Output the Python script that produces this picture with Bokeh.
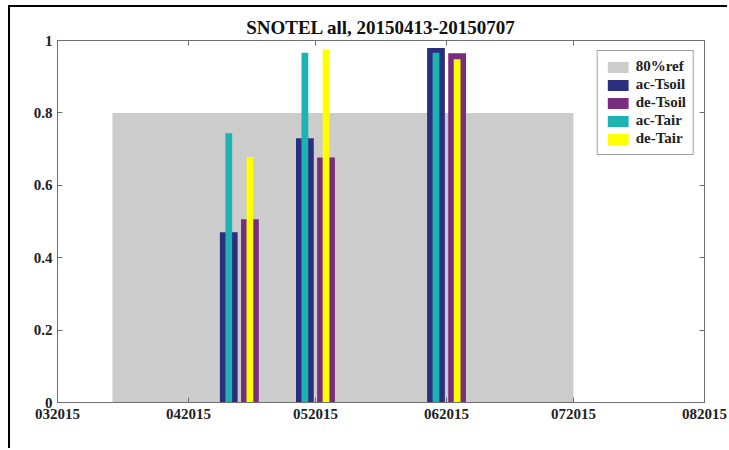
import pandas as pd
from bokeh.plotting import figure
from bokeh.models import (ColumnDataSource, FixedTicker, LinearAxis, Legend, LegendItem, Range1d)
from bokeh.embed import file_html
from bokeh.resources import INLINE

# ---------------- data ----------------
title_text = "SNOTEL all, 20150413-20150707"
dates = ["2015-04-13", "2015-05-01", "2015-06-01"]
ac_tsoil = [0.470, 0.730, 0.979]
de_tsoil = [0.506, 0.677, 0.965]
ac_tair = [0.744, 0.966, 0.966]
de_tair = [0.678, 0.975, 0.948]
ref_level = 0.8
ref_start = "2015-03-14"
ref_end = "2015-07-01"
tick_dates = ["2015-03-01", "2015-04-01", "2015-05-01", "2015-06-01", "2015-07-01", "2015-08-01"]
tick_labels = ["032015", "042015", "052015", "062015", "072015", "082015"]
y_ticks = [0, 0.2, 0.4, 0.6, 0.8, 1]
y_labels = ["0", "0.2", "0.4", "0.6", "0.8", "1"]
series_names = ["80%ref", "ac-Tsoil", "de-Tsoil", "ac-Tair", "de-Tair"]

# ---------------- helpers ----------------
origin = pd.Timestamp(tick_dates[0])
def day(d):
    return float((pd.Timestamp(d) - origin).days)

xd = [day(d) for d in dates]
xt = [day(d) for d in tick_dates]

C_REF = "#cccccc"
C_ACS = "#2c2e7e"
C_DES = "#7a2c7e"
C_ACA = "#1db3b3"
C_DEA = "#ffff00"
FONT = "Liberation Serif"

# page frame: black line on top and left, figure offset inside it
OX, OY = 10, 7
p = figure(width=729 - OX, height=450 - OY, output_backend="svg", toolbar_location=None,
           x_range=Range1d(xt[0], xt[-1]), y_range=Range1d(0, 1),
           min_border_left=57 - OX, min_border_right=25, min_border_top=40 - OY,
           min_border_bottom=48)
p.styles = {"border-top": "2px solid black", "border-left": "2px solid black",
            "margin-left": f"{OX - 2}px", "margin-top": f"{OY - 2}px"}
p.background_fill_color = "white"
p.border_fill_color = "white"
p.outline_line_color = "#6e6e6e"
p.xgrid.visible = False
p.ygrid.visible = False

off = 2.5
w_wide = 4.2
w_narrow = 1.6

r_ref = p.quad(left=[day(ref_start)], right=[day(ref_end)], bottom=[0], top=[ref_level],
               fill_color=C_REF, line_color=None)
src = ColumnDataSource(dict(xl=[x - off for x in xd], xr=[x + off for x in xd],
                            acs=ac_tsoil, des=de_tsoil, aca=ac_tair, dea=de_tair))
r_acs = p.vbar(x="xl", top="acs", width=w_wide, bottom=0, source=src, fill_color=C_ACS, line_color=None)
r_des = p.vbar(x="xr", top="des", width=w_wide, bottom=0, source=src, fill_color=C_DES, line_color=None)
r_aca = p.vbar(x="xl", top="aca", width=w_narrow, bottom=0, source=src, fill_color=C_ACA, line_color=None)
r_dea = p.vbar(x="xr", top="dea", width=w_narrow, bottom=0, source=src, fill_color=C_DEA, line_color=None)

def style_axis(ax, show_labels=True):
    ax.axis_line_color = "#6e6e6e"
    ax.major_tick_line_color = "#6e6e6e"
    ax.major_tick_in = 5
    ax.major_tick_out = 0
    ax.minor_tick_line_color = None
    ax.major_label_text_font = FONT
    ax.major_label_text_font_style = "bold"
    if show_labels:
        ax.major_label_text_color = "#222222"
        ax.major_label_text_font_size = "15px"
    else:
        ax.major_label_text_color = None
        ax.major_label_text_font_size = "1px"
        ax.major_label_standoff = 0

xax = p.xaxis[0]
xax.ticker = FixedTicker(ticks=xt)
xax.major_label_overrides = {t: l for t, l in zip(xt, tick_labels)}
style_axis(xax)
xax.major_label_standoff = 6

yax = p.yaxis[0]
yax.ticker = FixedTicker(ticks=y_ticks)
yax.major_label_overrides = {t: l for t, l in zip(y_ticks, y_labels)}
style_axis(yax)
yax.major_label_standoff = 5

top_ax = LinearAxis(ticker=FixedTicker(ticks=xt))
style_axis(top_ax, show_labels=False)
p.add_layout(top_ax, "above")
right_ax = LinearAxis(ticker=FixedTicker(ticks=y_ticks))
style_axis(right_ax, show_labels=False)
p.add_layout(right_ax, "right")

p.title.text = title_text
p.title.text_font = FONT
p.title.text_font_style = "bold"
p.title.text_font_size = "19px"
p.title.align = "center"
p.title.text_color = "#111111"
p.title.standoff = 5

renderers = [r_ref, r_acs, r_des, r_aca, r_dea]
legend = Legend(items=[LegendItem(label=n, renderers=[r]) for n, r in zip(series_names, renderers)],
                location="top_right")
legend.margin = 10
legend.padding = 7
legend.spacing = 1
legend.glyph_width = 26
legend.glyph_height = 14
legend.label_height = 14
legend.label_standoff = 5
legend.label_text_font = FONT
legend.label_text_font_style = "bold"
legend.label_text_font_size = "15px"
legend.label_text_color = "#222222"
legend.border_line_color = "#444444"
legend.border_line_width = 1
legend.background_fill_alpha = 1.0
p.add_layout(legend, "center")

open("out.html", "w").write(file_html(p, INLINE))
